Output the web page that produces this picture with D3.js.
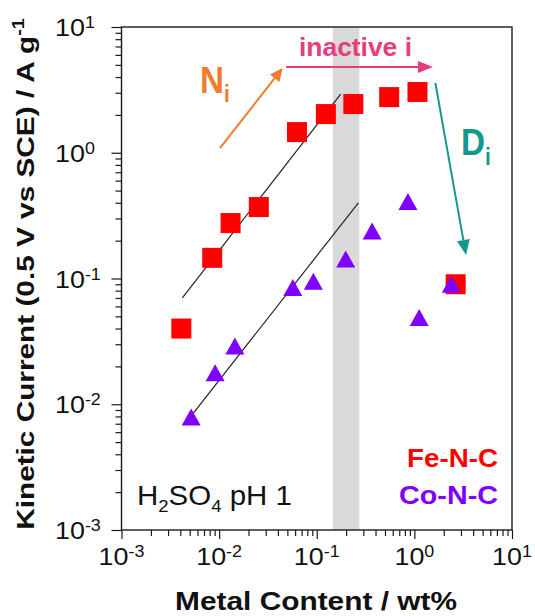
<!DOCTYPE html>
<html lang="en">
<head>
<meta charset="UTF-8">
<title>Kinetic Current vs Metal Content</title>
<script src="https://d3js.org/d3.v7.min.js"></script>
<style>
  body { margin: 0; background: #fff; }
  svg { display: block; font-family: Arial, "Liberation Sans", sans-serif; }
</style>
</head>
<body>
<div id="chart"></div>
<script>
// Fe-N-C, red squares (wt%, A/g)
const feContent = [0.0041, 0.0085, 0.0131, 0.0255, 0.0627, 0.124, 0.237, 0.552, 1.076, 2.65];
const feCurrent = [0.040, 0.146, 0.276, 0.37, 1.46, 2.03, 2.44, 2.77, 3.04, 0.090];
// Co-N-C, purple triangles
const coContent = [0.00517, 0.0091, 0.0145, 0.0569, 0.0923, 0.198, 0.369, 0.859, 1.12, 2.39];
const coCurrent = [0.0079, 0.0178, 0.029, 0.085, 0.095, 0.143, 0.239, 0.41, 0.049, 0.090];
// slope-1 guide lines: [x0, y0, x1, y1]
const feFit = [0.0042, 0.070, 0.176, 2.93];
const coFit = [0.00545, 0.0085, 0.267, 0.40];
// grey band on x
const band = [0.146, 0.273];
// annotation arrows: [x0, y0, x1, y1] in data units
const arrowNi = [0.0102, 1.09, 0.0448, 4.72];
const arrowInactive = [0.0485, 4.81, 1.55, 4.81];
const arrowDi = [1.64, 3.59, 3.38, 0.154];
const decades = [-3, -2, -1, 0, 1];
const expLabels = ["-3", "-2", "-1", "0", "1"];

const width = 535, height = 616;
const mLeft = 121.5, mRight = 512, mTop = 27, mBottom = 530;

const x = d3.scaleLog().domain([1e-3, 10]).range([mLeft, mRight]);
const y = d3.scaleLog().domain([1e-3, 10]).range([mBottom, mTop]);

const svg = d3.select("#chart").append("svg")
  .attr("width", width)
  .attr("height", height);

// stretch a text group horizontally to a measured width
function fit(g, target) {
  const w = g.node().getBBox().width;
  g.attr("transform", g.attr("transform") + ` scale(${target / w},1)`);
}

// grey band
svg.append("rect")
  .attr("x", x(band[0]))
  .attr("width", x(band[1]) - x(band[0]))
  .attr("y", mTop)
  .attr("height", mBottom - mTop)
  .attr("fill", "#d9d9d9");

// ticks (outside, left and bottom only)
const majors = decades.map(d => Math.pow(10, d));
const minors = [];
decades.slice(0, -1).forEach(d => {
  for (let m = 2; m <= 9; m++) minors.push(m * Math.pow(10, d));
});

function ticks(axis, vals, size, tr) {
  const g = svg.append("g").attr("transform", tr)
    .call(axis.tickValues(vals).tickSize(size).tickFormat(""));
  g.select(".domain").remove();
  g.selectAll("line").attr("stroke", "#1a1a1a").attr("stroke-width", 1.2);
}
ticks(d3.axisLeft(y), minors, 6, `translate(${mLeft},0)`);
ticks(d3.axisLeft(y), majors, 10, `translate(${mLeft},0)`);
ticks(d3.axisBottom(x), minors, 6, `translate(0,${mBottom})`);
ticks(d3.axisBottom(x), majors, 9, `translate(0,${mBottom})`);

// frame
svg.append("rect")
  .attr("x", mLeft).attr("y", mTop)
  .attr("width", mRight - mLeft).attr("height", mBottom - mTop)
  .attr("fill", "none")
  .attr("stroke", "#1a1a1a")
  .attr("stroke-width", 1.4);

// tick labels
decades.forEach((d, i) => {
  const gx = svg.append("g")
    .attr("transform", `translate(${x(Math.pow(10, d))},565) scale(1.12,1)`);
  const tx = gx.append("text").attr("text-anchor", "middle")
    .attr("font-size", 24).attr("fill", "#111").text("10");
  tx.append("tspan").attr("font-size", 16).attr("dy", -8).text(expLabels[i]);

  const gy = svg.append("g")
    .attr("transform", `translate(55,${y(Math.pow(10, d)) + 9}) scale(1.12,1)`);
  const ty = gy.append("text").attr("text-anchor", "start")
    .attr("font-size", 24).attr("fill", "#111").text("10");
  ty.append("tspan").attr("font-size", 16).attr("dy", -8).text(expLabels[i]);
});

// axis titles
const xt = svg.append("g").attr("transform", "translate(316,610)");
xt.append("text").attr("text-anchor", "middle")
  .attr("font-size", 26).attr("font-weight", "bold").attr("fill", "#111")
  .text("Metal Content / wt%");
fit(xt, 282);

const yt = svg.append("g").attr("transform", "translate(34,274) rotate(-90)");
const ytt = yt.append("text").attr("text-anchor", "middle")
  .attr("font-size", 24).attr("font-weight", "bold").attr("fill", "#111")
  .text("Kinetic Current (0.5 V vs SCE) / A g");
ytt.append("tspan").attr("font-size", 16).attr("dy", -10).text("-1");
fit(yt, 512);

// guide lines
[feFit, coFit].forEach(f => {
  svg.append("line")
    .attr("x1", x(f[0])).attr("y1", y(f[1]))
    .attr("x2", x(f[2])).attr("y2", y(f[3]))
    .attr("stroke", "#222")
    .attr("stroke-width", 1.2);
});

// Fe-N-C squares
const sq = 20;
svg.append("g").selectAll("rect")
  .data(d3.range(feContent.length))
  .join("rect")
  .attr("x", i => x(feContent[i]) - sq / 2)
  .attr("y", i => y(feCurrent[i]) - sq / 2)
  .attr("width", sq).attr("height", sq)
  .attr("fill", "#ff0000");

// Co-N-C triangles
svg.append("g").selectAll("path")
  .data(d3.range(coContent.length))
  .join("path")
  .attr("transform", i => `translate(${x(coContent[i])},${y(coCurrent[i])})`)
  .attr("d", "M0,-8.5L9.5,8.5L-9.5,8.5Z")
  .attr("fill", "#8000ff");

// arrows
function arrow(a, color, len, half) {
  const x0 = x(a[0]), y0 = y(a[1]), x1 = x(a[2]), y1 = y(a[3]);
  const ang = Math.atan2(y1 - y0, x1 - x0);
  const bx = x1 - len * Math.cos(ang), by = y1 - len * Math.sin(ang);
  svg.append("line")
    .attr("x1", x0).attr("y1", y0).attr("x2", bx).attr("y2", by)
    .attr("stroke", color).attr("stroke-width", 2);
  const px = -Math.sin(ang) * half, py = Math.cos(ang) * half;
  svg.append("path")
    .attr("d", `M${x1},${y1}L${bx + px},${by + py}L${bx - px},${by - py}Z`)
    .attr("fill", color);
}
arrow(arrowNi, "#ee7d31", 13, 6);
arrow(arrowInactive, "#ea3b7c", 15, 6);
arrow(arrowDi, "#13998a", 15, 6.5);

// annotation labels
const ni = svg.append("g").attr("transform", "translate(200,93) scale(0.9,1)");
const nit = ni.append("text").attr("font-size", 37).attr("font-weight", "bold")
  .attr("fill", "#ee7d31").text("N");
nit.append("tspan").attr("font-size", 23).attr("dy", 9).text("i");

const di = svg.append("g").attr("transform", "translate(461,155) scale(0.9,1)");
const dit = di.append("text").attr("font-size", 37).attr("font-weight", "bold")
  .attr("fill", "#13998a").text("D");
dit.append("tspan").attr("font-size", 23).attr("dy", 10).text("i");

const ina = svg.append("g").attr("transform", "translate(299,56)");
ina.append("text").attr("font-size", 25).attr("font-weight", "bold")
  .attr("fill", "#ea3b7c").text("inactive i");
fit(ina, 113);

// electrolyte note
const hs = svg.append("g").attr("transform", "translate(137,505)");
const hst = hs.append("text").attr("font-size", 27).attr("fill", "#111").text("H");
hst.append("tspan").attr("font-size", 17).attr("dy", 7).text("2");
hst.append("tspan").attr("dy", -7).text("SO");
hst.append("tspan").attr("font-size", 17).attr("dy", 7).text("4");
hst.append("tspan").attr("dy", -7).text(" pH 1");
fit(hs, 155);

// legend
const fe = svg.append("g").attr("transform", "translate(498,467)");
fe.append("text").attr("text-anchor", "end").attr("font-size", 25)
  .attr("font-weight", "bold").attr("fill", "#ff0000").text("Fe-N-C");
fit(fe, 91);
const co = svg.append("g").attr("transform", "translate(498,504)");
co.append("text").attr("text-anchor", "end").attr("font-size", 25)
  .attr("font-weight", "bold").attr("fill", "#8000ff").text("Co-N-C");
fit(co, 99);
</script>
</body>
</html>
